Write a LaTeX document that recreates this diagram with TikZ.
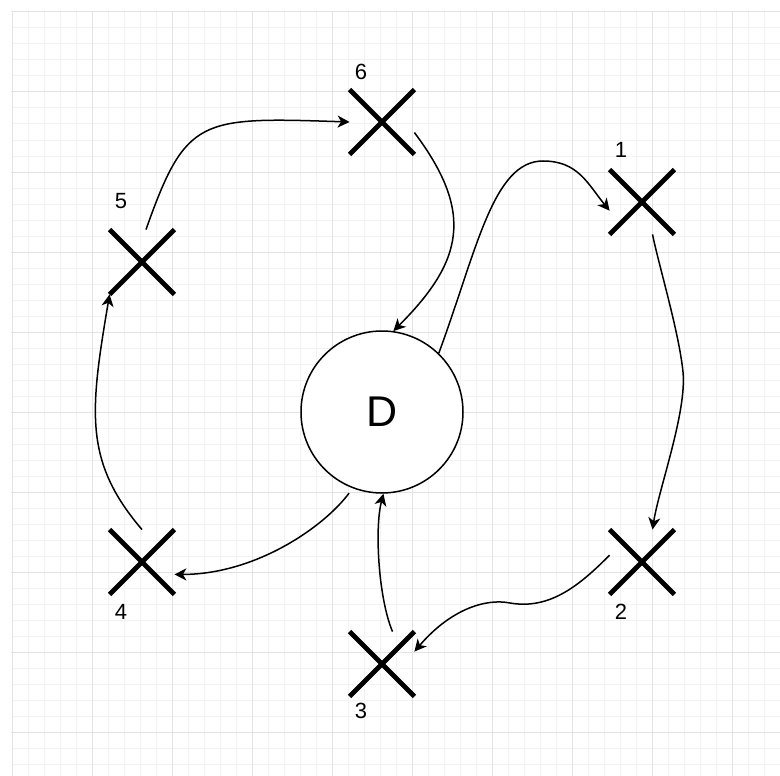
\documentclass[tikz,border=0pt]{standalone}
\usepackage{fontspec}
\setmainfont{Liberation Sans}
\usetikzlibrary{shapes.misc,arrows.meta}

\begin{document}
\begin{tikzpicture}[x=1pt,y=-1pt,
    xnode/.style={cross out,draw,line width=4.8pt,minimum size=60pt,inner sep=0pt},
    lbl/.style={font=\fontsize{22}{24}\selectfont},
    conn/.style={line width=1.5pt,-{Stealth[length=12pt,width=12pt,inset=3.5pt]}}]
\useasboundingbox (0,0) rectangle (780,776);
\foreach \i in {0,...,48}
    \draw[black!5,line width=1pt] (12+16*\i,11) -- (12+16*\i,776);
\foreach \i in {0,...,47}
    \draw[black!5,line width=1pt] (11,12+16*\i) -- (780,12+16*\i);
\foreach \i in {0,...,9}
    \draw[black!11,line width=1pt] (12+80*\i,11) -- (12+80*\i,776);
\foreach \i in {0,...,9}
    \draw[black!11,line width=1pt] (11,12+80*\i) -- (780,12+80*\i);
\node[circle,draw,fill=white,line width=1.5pt,minimum size=162pt,inner sep=0pt,
    font=\fontsize{43}{48}\selectfont] (D) at (382,412) {D};
\node[xnode] (p1) at (642,202) {};
\node[xnode] (p2) at (642,562) {};
\node[xnode] (p3) at (382,664) {};
\node[xnode] (p4) at (142,562) {};
\node[xnode] (p5) at (142,262) {};
\node[xnode] (p6) at (382,122) {};
\node[lbl] (l1) at (621,150) {1};
\node[lbl] (l2) at (621,612) {2};
\node[lbl] (l3) at (361,711) {3};
\node[lbl] (l4) at (121,612) {4};
\node[lbl] (l5) at (121,201) {5};
\node[lbl] (l6) at (361,72) {6};
\draw[conn] (p6.-18) .. controls +(60,80) and +(70,-70) .. (D.82);
\draw[conn] (D.46) .. controls +(38,-103) and +(-50,0) .. (543,161)
    .. controls +(35,0) and +(-22,-27) .. (p1.195);
\draw[conn] (p1.-72) .. controls +(6,30) and +(-4,-40) .. (683,372)
    .. controls +(4,40) and +(6,-40) .. (p2.72);
\draw[conn] (p2.168) .. controls (580,585) and (550,610) .. (510,603)
    .. controls (485,598) and (450,610) .. (p3.21);
\draw[conn] (p3.72) .. controls +(-14,-33) and +(-9,35) .. (D.-89);
\draw[conn,shorten <=6pt] (D.-111) .. controls +(-30,40) and +(80,0) .. (p4.-21);
\draw[conn] (p4.north) .. controls +(-58,-68) and +(-20,118) .. (p5.south west);
\draw[conn] (p5.83) .. controls +(40,-113) and +(-150,-5) .. (p6.west);
\end{tikzpicture}
\end{document}
